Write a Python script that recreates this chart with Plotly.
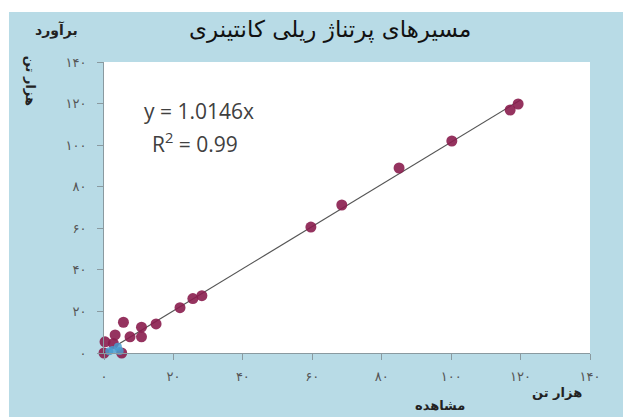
import plotly.graph_objects as go

# ---- data ----
observed = [0, 0.3, 2.7, 3.2, 5.1, 5.6, 7.5, 10.8, 10.8, 15, 21.9, 25.6, 28.2,
            59.6, 68.5, 85, 100.2, 117, 119.3]
estimated = [0, 5.4, 4.6, 8.7, 0, 14.8, 7.8, 7.8, 12.4, 14, 21.8, 26.2, 27.6,
             60.6, 71.2, 89, 102, 116.9, 119.8]
observed_blue = [1.5, 2.5, 4.0, 4.5]
estimated_blue = [0.8, 1.5, 3.0, 1.0]
slope = 1.0146
trend_x = [0, 120]
tick_vals = [0, 20, 40, 60, 80, 100, 120, 140]
tick_text = ["۰", "۲۰", "۴۰", "۶۰", "۸۰", "۱۰۰", "۱۲۰", "۱۴۰"]
title_text = "مسیرهای پرتناژ ریلی کانتینری"
y_title = "برآورد"
unit_text = "هزار تن"
x_title = "مشاهده"

trend_y = [slope * v for v in trend_x]

BLUE_BG = "#b8dbe6"
MAROON = "#8a1d4e"

fig = go.Figure()
fig.add_trace(go.Scatter(x=trend_x, y=trend_y, mode="lines",
                         line=dict(color="#555555", width=1.2),
                         showlegend=False, hoverinfo="skip"))
fig.add_trace(go.Scatter(x=observed, y=estimated, mode="markers",
                         marker=dict(color=MAROON, size=11, opacity=0.9),
                         cliponaxis=False, showlegend=False))
fig.add_trace(go.Scatter(x=observed_blue, y=estimated_blue, mode="markers",
                         marker=dict(color="#4a9ccf", size=8, opacity=0.85),
                         cliponaxis=False, showlegend=False))

axis_common = dict(range=[0, 140], tickvals=tick_vals, ticktext=tick_text,
                   showgrid=False, zeroline=False, ticks="outside", ticklen=6,
                   tickcolor="#8a9aa0", showline=True, linecolor="#8a9aa0",
                   linewidth=1, tickfont=dict(size=13, color="#555555",
                                              family="DejaVu Sans"))
fig.update_xaxes(**axis_common, ticklabelstandoff=5)
fig.update_yaxes(**axis_common, ticklabelstandoff=8)


def note(text, x, y, size, color="#222222", family="DejaVu Sans", angle=0):
    return dict(text=text, x=x, y=y, xref="paper", yref="paper",
                xanchor="center", yanchor="middle", showarrow=False,
                textangle=angle, font=dict(size=size, color=color, family=family))


ann = [
    note(title_text, 0.465, 1.11, 23, "#111111"),
    note("<b>" + y_title + "</b>", -0.097, 1.11, 14),
    note("<b>" + unit_text + "</b>", -0.152, 0.935, 13, angle=90),
    note("<b>" + x_title + "</b>", 0.691, -0.179, 13),
    note("<b>" + unit_text + "</b>", 0.932, -0.137, 13),
    note("y = " + str(slope) + "x", 0.195, 0.83, 21, "#404040", "Open Sans"),
    note("R<sup>2</sup> = 0.99", 0.188, 0.725, 21, "#404040", "Open Sans"),
]

shapes = [
    dict(type="rect", xref="paper", yref="paper", x0=-0.3, x1=-0.1955,
         y0=-0.5, y1=1.5, fillcolor="white", line=dict(width=0), layer="below"),
    dict(type="rect", xref="paper", yref="paper", x0=-0.3, x1=1.2,
         y0=1.1718, y1=1.5, fillcolor="white", line=dict(width=0), layer="below"),
]

fig.update_layout(width=631, height=417,
                  margin=dict(l=96, r=49, t=54, b=72),
                  paper_bgcolor=BLUE_BG, plot_bgcolor="white",
                  annotations=ann, shapes=shapes)

fig.write_html("out.html")
